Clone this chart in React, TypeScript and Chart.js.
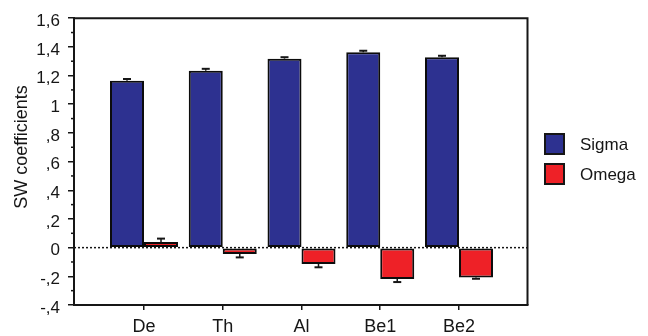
import React, { useEffect, useRef } from 'react';
import { Chart, registerables } from 'chart.js';

Chart.register(...registerables);

const categories = ['De', 'Th', 'Al', 'Be1', 'Be2'];
const seriesNames = ['Sigma', 'Omega'];
const sigmaValues = [1.164, 1.233, 1.318, 1.362, 1.327];
const sigmaErrors = [0.012, 0.014, 0.01, 0.011, 0.011];
const omegaValues = [0.04, -0.045, -0.114, -0.219, -0.208];
const omegaErrors = [0.023, 0.023, 0.023, 0.021, 0.009];
const yTickLabels = ['-,4', '-,2', '0', ',2', ',4', ',6', ',8', '1', '1,2', '1,4', '1,6'];
const yTitle = 'SW coefficients';

const FONT = '"Liberation Sans", Arial, Helvetica, sans-serif';
const INK = '#161616';
const COLORS = ['#2D3190', '#EE2127'];

export default function App() {
  const ref = useRef<HTMLCanvasElement>(null);

  useEffect(() => {
    const canvas = ref.current!;
    const valueSets = [sigmaValues, omegaValues];
    const errorSets = [sigmaErrors, omegaErrors];

    const decor = {
      id: 'decor',
      beforeDatasetsDraw(chart: any) {
        const { ctx, chartArea: a, scales } = chart;
        const y0 = scales.y.getPixelForValue(0);
        ctx.save();
        ctx.setLineDash([2, 2]);
        ctx.lineWidth = 1.5;
        ctx.strokeStyle = INK;
        ctx.beginPath();
        ctx.moveTo(a.left, y0);
        ctx.lineTo(a.right, y0);
        ctx.stroke();
        ctx.restore();
      },
      afterDatasetsDraw(chart: any) {
        const { ctx, scales } = chart;
        ctx.save();
        ctx.strokeStyle = INK;
        valueSets.forEach((vals, i) => {
          const meta = chart.getDatasetMeta(i);
          meta.data.forEach((el: any, j: number) => {
            const v = vals[j];
            const e = errorSets[i][j];
            const end = v >= 0 ? v + e : v - e;
            const yv = scales.y.getPixelForValue(v);
            const ye = scales.y.getPixelForValue(end);
            ctx.lineWidth = 1.5;
            ctx.beginPath();
            ctx.moveTo(el.x, yv);
            ctx.lineTo(el.x, ye);
            ctx.stroke();
            ctx.lineWidth = 2;
            ctx.beginPath();
            ctx.moveTo(el.x - 4, ye);
            ctx.lineTo(el.x + 4, ye);
            ctx.stroke();
          });
        });
        ctx.restore();
      },
      afterDraw(chart: any) {
        const { ctx, chartArea: a, scales } = chart;
        ctx.save();
        ctx.strokeStyle = INK;
        ctx.lineWidth = 2;
        ctx.beginPath();
        ctx.moveTo(a.left, a.top);
        ctx.lineTo(a.right, a.top);
        ctx.lineTo(a.right, a.bottom);
        ctx.stroke();
        ctx.lineWidth = 1.5;
        const ticks = scales.y.ticks;
        for (let k = 0; k < ticks.length - 1; k++) {
          const mid = (ticks[k].value + ticks[k + 1].value) / 2;
          const py = scales.y.getPixelForValue(mid);
          ctx.beginPath();
          ctx.moveTo(a.left - 3, py);
          ctx.lineTo(a.left, py);
          ctx.stroke();
        }
        ctx.fillStyle = INK;
        ctx.font = `18px ${FONT}`;
        ctx.textAlign = 'center';
        ctx.textBaseline = 'middle';
        ctx.translate(22, 147);
        ctx.rotate(-Math.PI / 2);
        ctx.fillText(yTitle, 0, 0);
        ctx.restore();
        ctx.save();
        ctx.font = `17px ${FONT}`;
        ctx.textAlign = 'left';
        ctx.textBaseline = 'middle';
        seriesNames.forEach((name, i) => {
          const bx = 545;
          const by = 134 + i * 30;
          ctx.fillStyle = COLORS[i];
          ctx.fillRect(bx, by, 19, 20);
          ctx.strokeStyle = INK;
          ctx.lineWidth = 2;
          ctx.strokeRect(bx, by, 19, 20);
          ctx.fillStyle = INK;
          ctx.fillText(name, 580, by + 11);
        });
        ctx.restore();
      },
    };

    const chart = new Chart(canvas, {
      type: 'bar',
      data: {
        datasets: valueSets.map((vals, i) => ({
          label: seriesNames[i],
          data: vals.map((v, j) => ({ x: j + 1, y: v })),
          backgroundColor: COLORS[i],
          borderColor: '#0c0c0c',
          borderWidth: 2,
          borderSkipped: false,
          categoryPercentage: 0.8635,
          barPercentage: 1.0,
        })),
      },
      options: {
        animation: false,
        responsive: false,
        layout: { padding: { top: 14, right: 120.5, left: 0, bottom: 0 } },
        plugins: { legend: { display: false }, tooltip: { enabled: false } },
        scales: {
          x: {
            type: 'linear',
            offset: false,
            min: 0.111,
            max: 5.87,
            afterBuildTicks: (s: any) => {
              s.ticks = categories.map((_, i) => ({ value: i + 1 }));
            },
            afterFit: (s: any) => {
              s.height = 31;
            },
            grid: { offset: false, drawOnChartArea: false, drawTicks: true, tickLength: 5, color: INK, lineWidth: 1.5 },
            border: { display: true, color: INK, width: 2 },
            ticks: {
              callback: (v: any) => categories[Math.round(Number(v)) - 1] ?? '',
              color: INK,
              font: { family: FONT, size: 18 },
              padding: 6,
              maxRotation: 0,
              autoSkip: false,
            },
          },
          y: {
            type: 'linear',
            min: -0.4,
            max: 1.6,
            afterFit: (s: any) => {
              s.width = 74;
            },
            grid: { drawOnChartArea: false, drawTicks: true, tickLength: 6, color: INK, lineWidth: 1.5 },
            border: { display: true, color: INK, width: 2 },
            ticks: {
              stepSize: 0.2,
              callback: (_v: any, i: number) => yTickLabels[i],
              color: INK,
              font: { family: FONT, size: 17 },
              padding: 8,
              labelOffset: 3,
            },
          },
        },
      },
      plugins: [decor],
    } as any);

    return () => chart.destroy();
  }, []);

  return (
    <div style={{ position: 'absolute', left: 0, top: 0, width: 648, height: 336, background: '#fff' }}>
      <canvas ref={ref} width={648} height={336} style={{ display: 'block' }} />
    </div>
  );
}
